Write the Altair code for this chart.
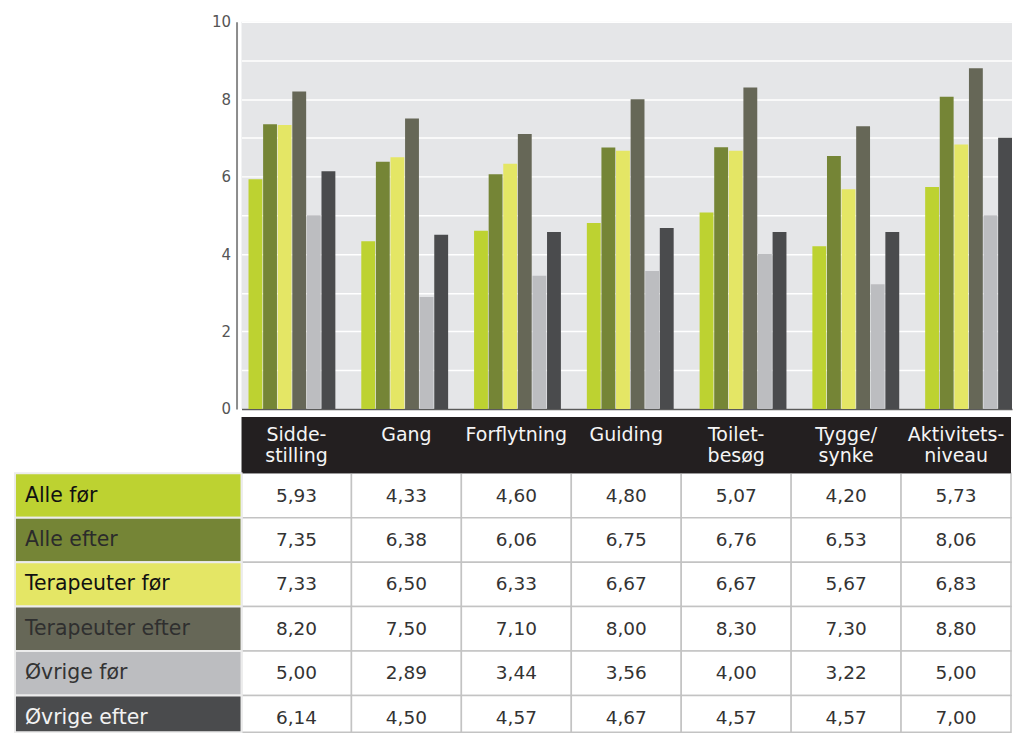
import altair as alt
import pandas as pd

# Activities rated before/after, by respondent group
categories = ["Sidde-\nstilling", "Gang", "Forflytning", "Guiding",
              "Toilet-\nbesøg", "Tygge/\nsynke", "Aktivitets-\nniveau"]
series = ["Alle før", "Alle efter", "Terapeuter før", "Terapeuter efter",
          "Øvrige før", "Øvrige efter"]

alle_foer = [5.93, 4.33, 4.60, 4.80, 5.07, 4.20, 5.73]
alle_efter = [7.35, 6.38, 6.06, 6.75, 6.76, 6.53, 8.06]
terapeuter_foer = [7.33, 6.50, 6.33, 6.67, 6.67, 5.67, 6.83]
terapeuter_efter = [8.20, 7.50, 7.10, 8.00, 8.30, 7.30, 8.80]
oevrige_foer = [5.00, 2.89, 3.44, 3.56, 4.00, 3.22, 5.00]
oevrige_efter = [6.14, 4.50, 4.57, 4.67, 4.57, 4.57, 7.00]

y_ticks = list(range(0, 11))

series_values = [alle_foer, alle_efter, terapeuter_foer,
                 terapeuter_efter, oevrige_foer, oevrige_efter]

# Styling
palette = ["#bdd231", "#758536", "#e4e665", "#666757", "#bcbdc0", "#4a4b4d"]
label_ink = ["#111111", "#2b2b2b", "#111111", "#2f2f2f", "#333333", "#f2f2f2"]
FONT = "DejaVu Sans"
HEADER_ROWS = 1.27      # header depth, in table-row units
ROW_END = 5.83          # visible part of the table, in table-row units
LABEL_COLS = 2.061      # width of the row-label column, in table-column units

records = []
for r, (name, vals) in enumerate(zip(series, series_values)):
    for c, (cat, v) in enumerate(zip(categories, vals)):
        records.append({
            "series": name, "category": cat, "value": v,
            "row": r, "row_end": r + 1, "row_mid": r + 0.5,
            "col": c, "col_end": c + 1, "col_mid": c + 0.5,
            "text": f"{v:.2f}".replace(".", ","),
        })
df = pd.DataFrame(records)

header = pd.DataFrame({
    "label": categories,
    "col": range(len(categories)),
    "col_end": [c + 1 for c in range(len(categories))],
    "col_mid": [c + 0.5 for c in range(len(categories))],
    "top": -HEADER_ROWS,
    "bottom": 0.0,
})

row_labels = pd.DataFrame({
    "series": series,
    "row": range(len(series)),
    "row_end": [r + 1 for r in range(len(series))],
    "row_mid": [r + 0.5 for r in range(len(series))],
    "left": -LABEL_COLS,
    "right": 0.0,
})

# ---- grouped bar chart ----
bars = alt.Chart(df).mark_bar().encode(
    x=alt.X("category:N", sort=categories, title=None,
            scale=alt.Scale(paddingInner=0.23, paddingOuter=0.031, align=1),
            axis=alt.Axis(labels=False, ticks=False, grid=False,
                          domainColor="#5a5a5a", domainWidth=1.5)),
    xOffset=alt.XOffset("series:N", sort=series,
                        scale=alt.Scale(paddingInner=0.05)),
    y=alt.Y("value:Q", title=None,
            scale=alt.Scale(domain=[0, 10], nice=False),
            axis=alt.Axis(values=y_ticks,
                          labelExpr="datum.value % 2 === 0 ? datum.label : ''",
                          ticks=False, grid=True, gridColor="#ffffff",
                          gridWidth=1.5, domainColor="#8c8c8c", domainWidth=2,
                          offset=5, labelPadding=6, labelColor="#555555",
                          labelFontSize=15, labelFont=FONT)),
    color=alt.Color("series:N", sort=series,
                    scale=alt.Scale(domain=series, range=palette), legend=None),
).properties(width=772, height=388,
             view=alt.ViewBackground(fill="#e5e6e8", stroke=None))

# ---- data table ----
x_tab = alt.Scale(domain=[0, 7], nice=False, zero=False)
y_tab = alt.Scale(domain=[-HEADER_ROWS, ROW_END], nice=False, zero=False,
                  reverse=True, clamp=True)

head_band = alt.Chart(header).mark_rect(color="#231f20").encode(
    x=alt.X("min(col):Q", scale=x_tab, axis=None),
    x2="max(col_end):Q",
    y=alt.Y("min(top):Q", scale=y_tab, axis=None),
    y2="max(bottom):Q",
)

head_text = alt.Chart(header).mark_text(
    font=FONT, fontSize=19, color="#f5f5f5", baseline="top", align="center",
    lineBreak="\n", lineHeight=21, dy=9,
).encode(
    x=alt.X("col_mid:Q", scale=x_tab, axis=None),
    y=alt.Y("top:Q", scale=y_tab, axis=None),
    text="label:N",
)

label_cells = alt.Chart(row_labels).mark_rect(stroke="#ececec", strokeWidth=2).encode(
    x=alt.X("left:Q", scale=x_tab, axis=None),
    x2="right:Q",
    y=alt.Y("row:Q", scale=y_tab, axis=None),
    y2="row_end:Q",
    fill=alt.Fill("series:N", sort=series,
                  scale=alt.Scale(domain=series, range=palette), legend=None),
)

label_text = alt.Chart(row_labels).mark_text(
    font=FONT, fontSize=20.5, align="left", baseline="middle", dx=10,
).encode(
    x=alt.X("left:Q", scale=x_tab, axis=None),
    y=alt.Y("row_mid:Q", scale=y_tab, axis=None),
    text="series:N",
    color=alt.Color("series:N", sort=series,
                    scale=alt.Scale(domain=series, range=label_ink), legend=None),
)

value_cells = alt.Chart(df).mark_rect(fill="#ffffff", stroke="#c3c3c3", strokeWidth=1.5).encode(
    x=alt.X("col:Q", scale=x_tab, axis=None),
    x2="col_end:Q",
    y=alt.Y("row:Q", scale=y_tab, axis=None),
    y2="row_end:Q",
)

value_text = alt.Chart(df).mark_text(
    font=FONT, fontSize=18.5, color="#333333", align="center", baseline="middle",
).encode(
    x=alt.X("col_mid:Q", scale=x_tab, axis=None),
    y=alt.Y("row_mid:Q", scale=y_tab, axis=None),
    text="text:N",
)

table = alt.layer(
    value_cells, value_text, head_band, head_text, label_cells, label_text
).properties(width=771, height=316)

chart = alt.vconcat(bars, table, spacing=0).resolve_scale(
    color="independent", fill="independent"
).properties(
    padding={"left": 13, "top": 14, "right": 0, "bottom": 0},
    background="#ffffff",
).configure_view(stroke=None)

chart.save("out.html", embed_options={"renderer": "svg", "actions": False})
